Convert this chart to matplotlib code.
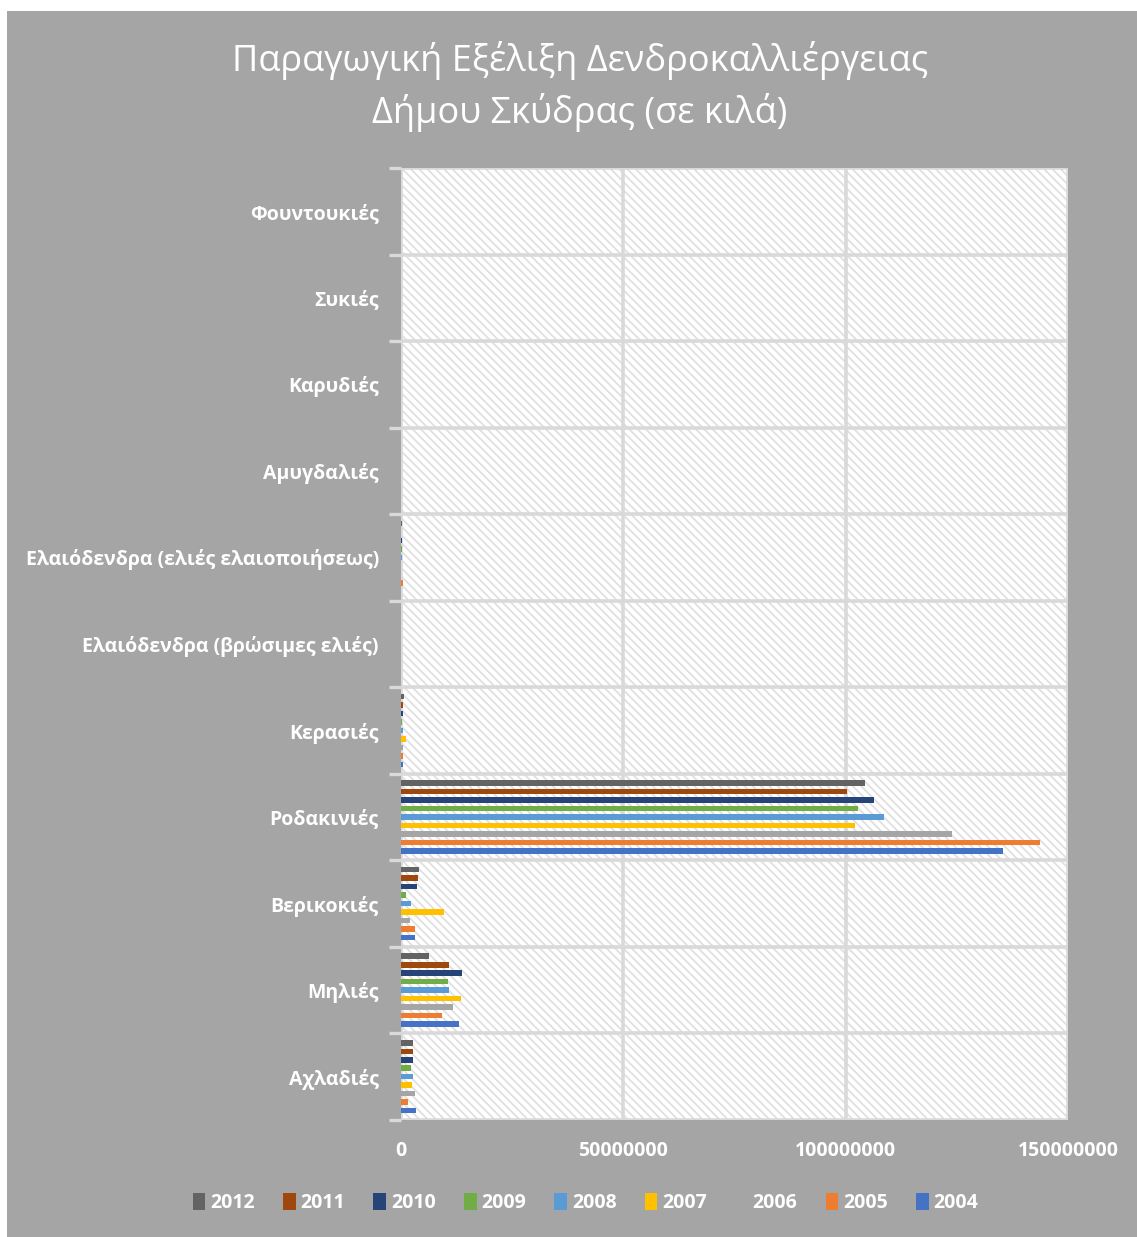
import matplotlib
matplotlib.use("Agg")
import matplotlib.pyplot as plt
from matplotlib.patches import Rectangle
from matplotlib.ticker import FixedLocator
import numpy as np

plt.rcParams['font.family'] = ['Open Sans', 'DejaVu Sans']
plt.rcParams['hatch.linewidth'] = 1.3

BG = '#a5a5a5'
GRID = '#d9d9d9'

# categories from bottom to top of the chart
categories = ['Αχλαδιές', 'Μηλιές', 'Βερικοκιές', 'Ροδακινιές', 'Κερασιές',
              'Ελαιόδενδρα (βρώσιμες ελιές)', 'Ελαιόδενδρα (ελιές ελαιοποιήσεως)',
              'Αμυγδαλιές', 'Καρυδιές', 'Συκιές', 'Φουντουκιές']

years = ['2004', '2005', '2006', '2007', '2008', '2009', '2010', '2011', '2012']

# production in kg, same order as categories
prod_2004 = [3300000, 13100000, 3100000, 135400000, 500000, 40000, 100000, 20000, 30000, 10000, 5000]
prod_2005 = [1600000, 9200000, 3200000, 143600000, 500000, 40000, 350000, 20000, 30000, 10000, 5000]
prod_2006 = [3200000, 11700000, 2100000, 123900000, 500000, 40000, 100000, 20000, 30000, 10000, 5000]
prod_2007 = [2400000, 13600000, 9700000, 102200000, 1050000, 40000, 100000, 20000, 30000, 10000, 5000]
prod_2008 = [2700000, 10800000, 2200000, 108600000, 500000, 40000, 300000, 20000, 30000, 10000, 5000]
prod_2009 = [2300000, 10600000, 1100000, 102700000, 300000, 40000, 300000, 20000, 30000, 10000, 5000]
prod_2010 = [2600000, 13700000, 3600000, 106300000, 350000, 40000, 300000, 20000, 30000, 10000, 5000]
prod_2011 = [2700000, 10900000, 3900000, 100300000, 500000, 40000, 100000, 20000, 30000, 10000, 5000]
prod_2012 = [2700000, 6400000, 4100000, 104400000, 600000, 40000, 300000, 20000, 30000, 10000, 5000]

series = [prod_2004, prod_2005, prod_2006, prod_2007, prod_2008,
          prod_2009, prod_2010, prod_2011, prod_2012]
colors = ['#4472C4', '#ED7D31', '#A5A5A5', '#FFC000', '#5B9BD5',
          '#70AD47', '#264478', '#9E480E', '#636363']

fig = plt.figure(figsize=(11.37, 12.37), dpi=100, facecolor='white')
fig.patches.append(Rectangle((7 / 1137, 0), 1, 1 - 11 / 1237, transform=fig.transFigure,
                             facecolor=BG, edgecolor='none', zorder=-10))

ax = fig.add_axes([401 / 1137, 1 - 1120 / 1237, 667 / 1137, 952 / 1237])
ax.set_facecolor('white')
# light diagonal hatching behind the bars
ax.add_patch(Rectangle((0, 0), 1, 1, transform=ax.transAxes, facecolor='white',
                       edgecolor='#e0e0e0', linewidth=0, hatch='\\\\\\\\', zorder=0))

y = np.arange(len(categories))
slot = 0.098
bar_h = 0.064
n = len(series)
for i, (vals, col, yr) in enumerate(zip(series, colors, years)):
    offs = -slot * n / 2 + slot * (i + 0.5)
    ax.barh(y + offs, vals, height=bar_h, color=col, label=yr, zorder=3)

ax.set_xlim(0, 150000000)
ax.set_ylim(-0.5, len(categories) - 0.5)

# grid: value lines and category separators
for xv in [0, 50000000, 100000000, 150000000]:
    ax.axvline(xv, color=GRID, lw=2.6, zorder=2)
for yb in np.arange(-0.5, len(categories), 1.0):
    ax.axhline(yb, color=GRID, lw=2.6, zorder=2)

for s in ax.spines.values():
    s.set_visible(False)

ax.set_xticks([0, 50000000, 100000000, 150000000])
ax.set_xticklabels(['0', '50000000', '100000000', '150000000'])
ax.set_yticks(y)
ax.set_yticklabels(categories)
ax.yaxis.set_minor_locator(FixedLocator(np.arange(-0.5, len(categories), 1.0)))
ax.tick_params(axis='y', which='major', length=0, pad=16, labelsize=14,
               labelcolor='white')
ax.tick_params(axis='y', which='minor', length=9, width=2.4, color=GRID)
ax.tick_params(axis='x', length=0, pad=15, labelsize=14, labelcolor='white')
for lab in ax.get_yticklabels() + ax.get_xticklabels():
    lab.set_fontweight('bold')

fig.text(0.51, 0.930, 'Παραγωγική Εξέλιξη Δενδροκαλλιέργειας\nΔήμου Σκύδρας (σε κιλά)',
         ha='center', va='center', color='white', fontsize=26, linespacing=1.45)

handles, labels = ax.get_legend_handles_labels()
leg = fig.legend(handles[::-1], labels[::-1], loc='center', bbox_to_anchor=(0.515, 0.0275),
                 ncol=9, frameon=False, handlelength=0.65, handleheight=1.0,
                 handletextpad=0.25, columnspacing=1.45,
                 prop={'weight': 'bold', 'size': 14})
for t in leg.get_texts():
    t.set_color('white')

fig.savefig('out.png', dpi=100, facecolor=fig.get_facecolor())
